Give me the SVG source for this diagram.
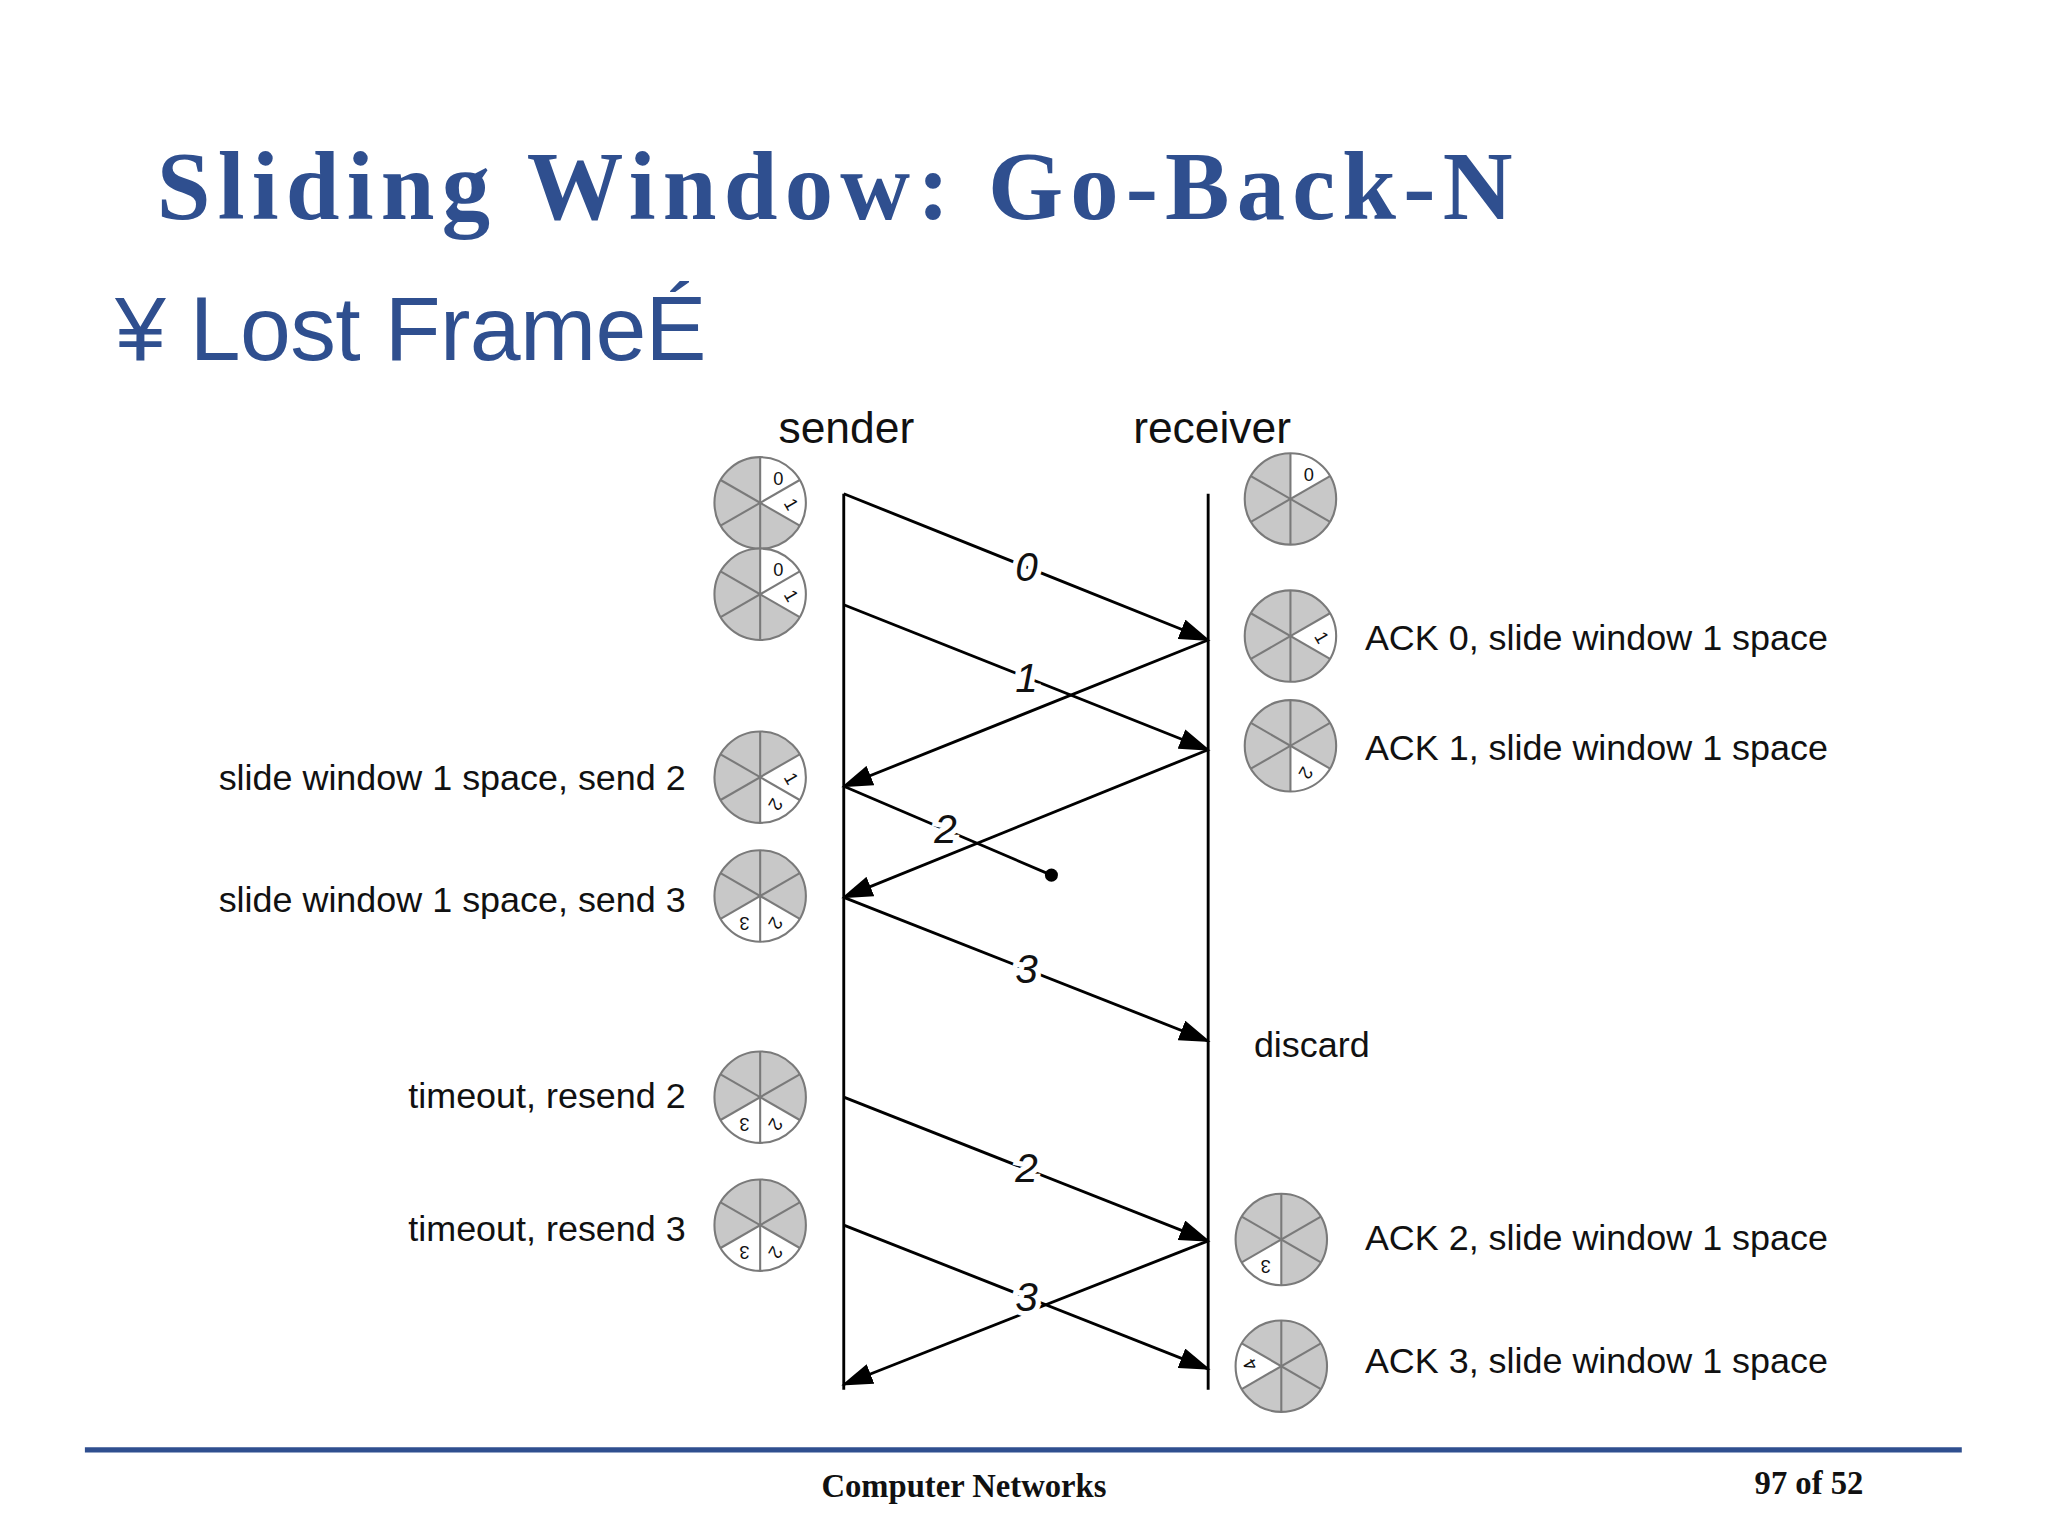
<svg xmlns="http://www.w3.org/2000/svg" xmlns:xlink="http://www.w3.org/1999/xlink" width="2048" height="1536" viewBox="0 0 2048 1536">
<style>
.t{font-family:"Liberation Sans",Arial,sans-serif;fill:#111}
.lb{font-size:27.5px}
.wl{font-family:"Liberation Sans",Arial,sans-serif;font-size:14px;fill:#111;text-anchor:middle;dominant-baseline:central}
.num{font-family:"Liberation Sans",Arial,sans-serif;font-size:31px;font-style:italic;text-anchor:middle;dominant-baseline:central;fill:#111;stroke:#fff;stroke-width:8px;paint-order:stroke}
.ln{stroke:#000;stroke-width:2.2;fill:none}
.sec{fill:#fff}
</style>
<defs>
<marker id="ah" markerUnits="userSpaceOnUse" markerWidth="24" markerHeight="16" refX="22" refY="8" orient="auto"><path d="M0,0 L24,8 L0,16 Z" fill="#000"/></marker>
<circle id="base" r="35" fill="#c8c8c8"/>
<path id="s0" d="M0,0 L0,-35 A35,35 0 0 1 30.31,-17.5 Z"/>
<path id="s1" d="M0,0 L30.31,-17.5 A35,35 0 0 1 30.31,17.5 Z"/>
<path id="s2" d="M0,0 L30.31,17.5 A35,35 0 0 1 0,35 Z"/>
<path id="s3" d="M0,0 L0,35 A35,35 0 0 1 -30.31,17.5 Z"/>
<path id="s4" d="M0,0 L-30.31,17.5 A35,35 0 0 1 -30.31,-17.5 Z"/>
<g id="over" fill="none" stroke="#7a7a7a" stroke-width="1.6"><line x1="0" y1="-35" x2="0" y2="35"/><line x1="-30.31" y1="-17.5" x2="30.31" y2="17.5"/><line x1="-30.31" y1="17.5" x2="30.31" y2="-17.5"/><circle r="35"/></g>
</defs>
<rect width="2048" height="1536" fill="#fff"/>
<g transform="scale(1.30612)">
<g id="title">
<text x="120" y="168" font-family="Liberation Serif,serif" font-weight="bold" font-size="74" fill="#2f4f8f" letter-spacing="5.5">Sliding Window: Go-Back-N</text>
<text x="88" y="276" font-family="Liberation Sans,Arial,sans-serif" font-size="70" fill="#2f4f8f" letter-spacing="-0.5">¥ Lost FrameÉ</text>
</g>
<g id="headers">
<text class="t" x="648" y="339" font-size="34" text-anchor="middle">sender</text>
<text class="t" x="928" y="339" font-size="34" text-anchor="middle">receiver</text>
</g>
<g id="timelines">
<line class="ln" x1="646" y1="378" x2="646" y2="1064"/>
<line class="ln" x1="925" y1="378" x2="925" y2="1064"/>
</g>
<g id="connectors">
<line class="ln" x1="646" y1="378" x2="925" y2="490" marker-end="url(#ah)"/>
<line class="ln" x1="646" y1="463" x2="925" y2="574" marker-end="url(#ah)"/>
<line class="ln" x1="925" y1="490" x2="646" y2="602" marker-end="url(#ah)"/>
<line class="ln" x1="925" y1="574" x2="646" y2="687" marker-end="url(#ah)"/>
<line class="ln" x1="646" y1="602" x2="805" y2="670"/>
<circle cx="805" cy="670" r="5" fill="#000"/>
<line class="ln" x1="646" y1="687" x2="925" y2="797" marker-end="url(#ah)"/>
<line class="ln" x1="646" y1="840" x2="925" y2="950" marker-end="url(#ah)"/>
<line class="ln" x1="646" y1="938" x2="925" y2="1048" marker-end="url(#ah)"/>
<line class="ln" x1="925" y1="950" x2="646" y2="1060" marker-end="url(#ah)"/>
<text class="num" x="786" y="434">0</text>
<text class="num" x="786" y="519">1</text>
<text class="num" x="724" y="635">2</text>
<text class="num" x="786" y="742">3</text>
<text class="num" x="786" y="894">2</text>
<text class="num" x="786" y="993">3</text>
</g>
<g id="sender-labels" class="t lb" text-anchor="end">
<text x="525" y="605">slide window 1 space, send 2</text>
<text x="525" y="698">slide window 1 space, send 3</text>
<text x="525" y="848">timeout, resend 2</text>
<text x="525" y="950">timeout, resend 3</text>
</g>
<g id="receiver-labels" class="t lb">
<text x="1045" y="498">ACK 0, slide window 1 space</text>
<text x="1045" y="582">ACK 1, slide window 1 space</text>
<text x="960" y="809">discard</text>
<text x="1045" y="957">ACK 2, slide window 1 space</text>
<text x="1045" y="1051">ACK 3, slide window 1 space</text>
</g>
<g id="w1" transform="translate(582,385)"><use href="#base"/><use href="#s0" class="sec"/><use href="#s1" class="sec"/><use href="#over"/><text class="wl" transform="translate(14,-19)">0</text><text class="wl" transform="translate(24,1) rotate(60)">1</text></g>
<g id="w2" transform="translate(582,455)"><use href="#base"/><use href="#s0" class="sec"/><use href="#s1" class="sec"/><use href="#over"/><text class="wl" transform="translate(14,-19)">0</text><text class="wl" transform="translate(24,1) rotate(60)">1</text></g>
<g id="w3" transform="translate(582,595)"><use href="#base"/><use href="#s1" class="sec"/><use href="#s2" class="sec"/><use href="#over"/><text class="wl" transform="translate(24,1) rotate(60)">1</text><text class="wl" transform="translate(12,21) rotate(120)">2</text></g>
<g id="w4" transform="translate(582,686)"><use href="#base"/><use href="#s2" class="sec"/><use href="#s3" class="sec"/><use href="#over"/><text class="wl" transform="translate(12,21) rotate(120)">2</text><text class="wl" transform="translate(-12,21) rotate(180)">3</text></g>
<g id="w5" transform="translate(582,840)"><use href="#base"/><use href="#s2" class="sec"/><use href="#s3" class="sec"/><use href="#over"/><text class="wl" transform="translate(12,21) rotate(120)">2</text><text class="wl" transform="translate(-12,21) rotate(180)">3</text></g>
<g id="w6" transform="translate(582,938)"><use href="#base"/><use href="#s2" class="sec"/><use href="#s3" class="sec"/><use href="#over"/><text class="wl" transform="translate(12,21) rotate(120)">2</text><text class="wl" transform="translate(-12,21) rotate(180)">3</text></g>
<g id="r1" transform="translate(988,382)"><use href="#base"/><use href="#s0" class="sec"/><use href="#over"/><text class="wl" transform="translate(14,-19)">0</text></g>
<g id="r2" transform="translate(988,487)"><use href="#base"/><use href="#s1" class="sec"/><use href="#over"/><text class="wl" transform="translate(24,1) rotate(60)">1</text></g>
<g id="r3" transform="translate(988,571)"><use href="#base"/><use href="#s2" class="sec"/><use href="#over"/><text class="wl" transform="translate(12,21) rotate(120)">2</text></g>
<g id="r4" transform="translate(981,949)"><use href="#base"/><use href="#s3" class="sec"/><use href="#over"/><text class="wl" transform="translate(-12,21) rotate(180)">3</text></g>
<g id="r5" transform="translate(981,1046)"><use href="#base"/><use href="#s4" class="sec"/><use href="#over"/><text class="wl" transform="translate(-24,-1) rotate(240)">4</text></g>
<g id="footer">
<line x1="65" y1="1110" x2="1502" y2="1110" stroke="#2f4f8f" stroke-width="4"/>
<text x="738" y="1146" font-family="Liberation Serif,serif" font-weight="bold" font-size="25" text-anchor="middle" fill="#111">Computer Networks</text>
<text x="1385" y="1144" font-family="Liberation Serif,serif" font-weight="bold" font-size="25" text-anchor="middle" fill="#111">97 of 52</text>
</g>
</g>
</svg>
